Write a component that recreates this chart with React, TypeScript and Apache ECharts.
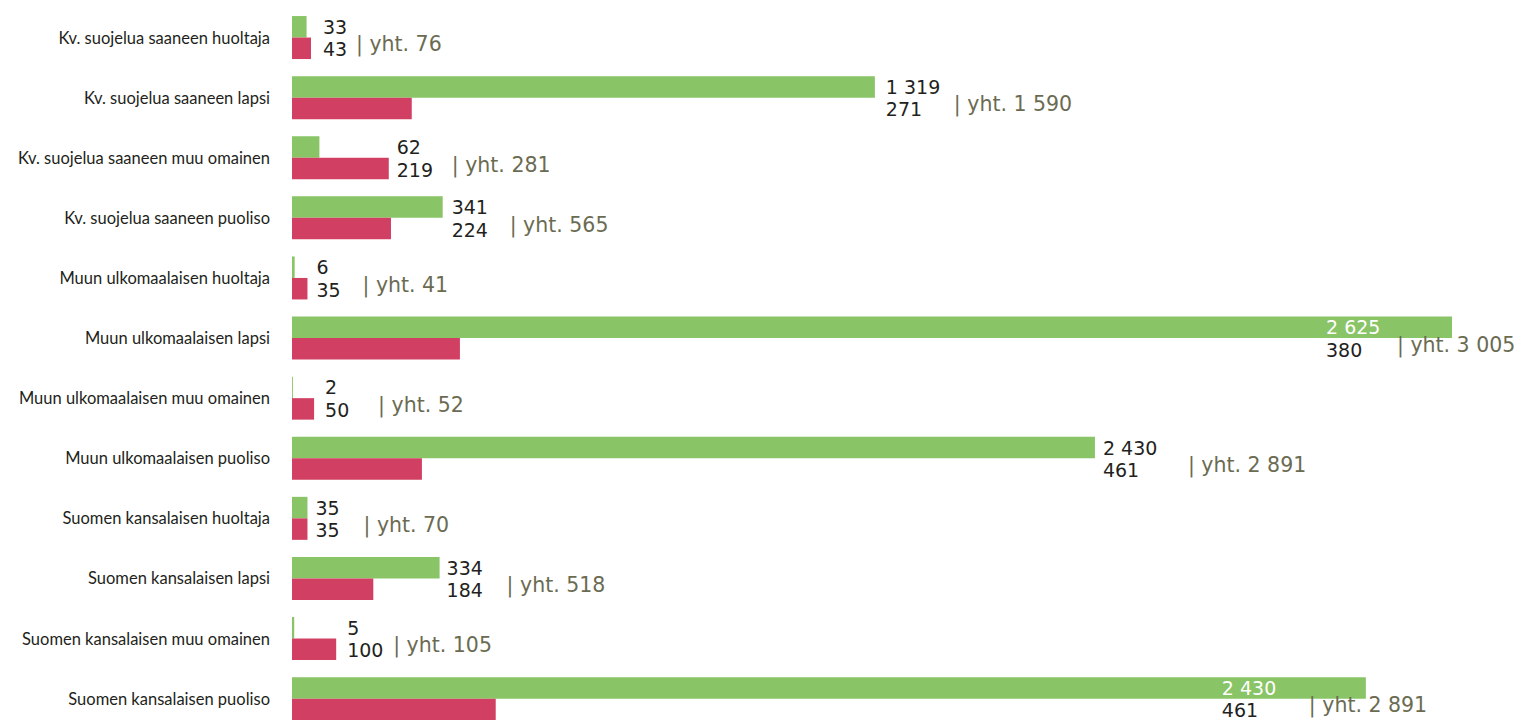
import React, { useEffect, useRef } from 'react';
import * as echarts from 'echarts';

const categories = [
  'Kv. suojelua saaneen huoltaja',
  'Kv. suojelua saaneen lapsi',
  'Kv. suojelua saaneen muu omainen',
  'Kv. suojelua saaneen puoliso',
  'Muun ulkomaalaisen huoltaja',
  'Muun ulkomaalaisen lapsi',
  'Muun ulkomaalaisen muu omainen',
  'Muun ulkomaalaisen puoliso',
  'Suomen kansalaisen huoltaja',
  'Suomen kansalaisen lapsi',
  'Suomen kansalaisen muu omainen',
  'Suomen kansalaisen puoliso',
];

// bar lengths as drawn in the picture
const greenValues = [33, 1319, 62, 341, 6, 2625, 2, 1817, 35, 334, 5, 2430];
const redValues = [43, 271, 219, 224, 35, 380, 50, 294, 35, 184, 100, 461];

// numbers as printed in the picture
const greenLabels = [33, 1319, 62, 341, 6, 2625, 2, 2430, 35, 334, 5, 2430];
const redLabels = [43, 271, 219, 224, 35, 380, 50, 461, 35, 184, 100, 461];
const totals = greenLabels.map((g, i) => g + redLabels[i]);

// label layout (px offsets relative to the bar end)
const labelGap = [12, 11, 8, 9, 9, -126, 11, 8, 8, 7, 11, -144];
const totalOffset = [33, 68, 55, 58, 46, 71, 53, 85, 48, 60, 46, 87];

const GREEN = '#89c466';
const RED = '#d14062';
const TEXT = '#231f20';
const TOTAL = '#6b6b52';
const HALF = 10.75;

const fmt = (n: number) => String(n).replace(/\B(?=(\d{3})+(?!\d))/g, ' ');

export default function App() {
  const ref = useRef<HTMLDivElement>(null);
  useEffect(() => {
    if (!ref.current) return;
    const chart = echarts.init(ref.current, undefined, { renderer: 'svg' });
    chart.setOption({
      animation: false,
      backgroundColor: '#ffffff',
      grid: { left: 292, top: 7.5, width: 1160, height: 721.2 },
      xAxis: { type: 'value', min: 0, max: 2625, show: false },
      yAxis: {
        type: 'category',
        data: categories,
        inverse: true,
        axisLine: { show: false },
        axisTick: { show: false },
        splitLine: { show: false },
        axisLabel: {
          margin: 22,
          fontFamily: 'Lato',
          fontSize: 16.5,
          color: TEXT,
          padding: [10, 0, 0, 0],
        },
      },
      series: [
        {
          type: 'bar',
          data: greenValues,
          barWidth: 21.5,
          barGap: '0%',
          itemStyle: { color: GREEN },
          silent: true,
        },
        {
          type: 'bar',
          data: redValues,
          barWidth: 21.5,
          barGap: '0%',
          itemStyle: { color: RED },
          silent: true,
        },
        {
          type: 'custom',
          silent: true,
          clip: false,
          z: 10,
          encode: { x: 0, y: 1 },
          data: categories.map((_, i) => [Math.max(greenValues[i], redValues[i]), i]),
          renderItem: (params: any, api: any) => {
            const i = params.dataIndex;
            const p = api.coord([api.value(0), i]);
            const cy = p[1];
            const x = p[0] + labelGap[i];
            const inside = labelGap[i] < 0;
            return {
              type: 'group',
              children: [
                {
                  type: 'text',
                  style: {
                    text: fmt(greenLabels[i]),
                    x,
                    y: cy - HALF,
                    verticalAlign: 'middle',
                    align: 'left',
                    font: '19px "DejaVu Sans"',
                    fill: inside ? '#ffffff' : TEXT,
                  },
                },
                {
                  type: 'text',
                  style: {
                    text: fmt(redLabels[i]),
                    x,
                    y: cy + HALF + 1,
                    verticalAlign: 'middle',
                    align: 'left',
                    font: '19px "DejaVu Sans"',
                    fill: TEXT,
                  },
                },
                {
                  type: 'text',
                  style: {
                    text: '| yht. ' + fmt(totals[i]),
                    x: x + totalOffset[i],
                    y: cy + HALF - 4,
                    verticalAlign: 'middle',
                    align: 'left',
                    font: '20.5px "DejaVu Sans"',
                    fill: TOTAL,
                  },
                },
              ],
            };
          },
        },
      ],
    });
    return () => chart.dispose();
  }, []);
  return (
    <div style={{ position: 'fixed', left: 0, top: 0, width: 1519, height: 720, overflow: 'hidden' }}>
      <div ref={ref} style={{ width: 1519, height: 760 }} />
    </div>
  );
}
